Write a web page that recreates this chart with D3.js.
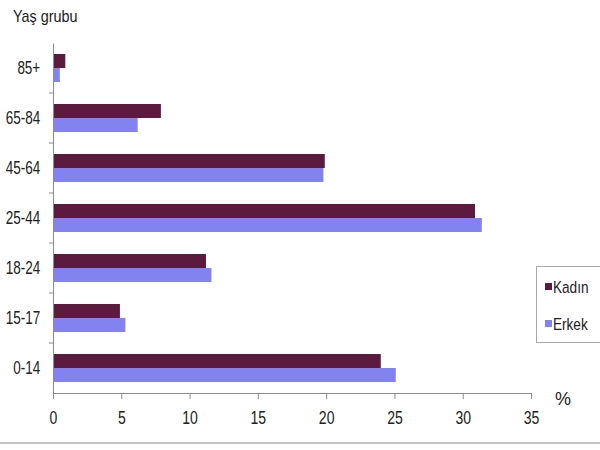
<!DOCTYPE html>
<html><head><meta charset="utf-8">
<script src="https://cdn.jsdelivr.net/npm/d3@7"></script>
<style>
html,body{margin:0;padding:0;background:#fff;}
text{font-family:"Liberation Sans",Arial,sans-serif;fill:#222;}
</style></head>
<body>
<svg id="chart" width="600" height="450"></svg>
<script>
const categories = ["85+","65-84","45-64","25-44","18-24","15-17","0-14"];
const kadin = [0.9, 7.9, 19.9, 30.9, 11.2, 4.9, 24.0];
const erkek = [0.5, 6.2, 19.8, 31.4, 11.6, 5.3, 25.1];
const seriesNames = ["Kadın","Erkek"];
const xTicks = [0,5,10,15,20,25,30,35];
const colors = ["#5c1a3e","#8383f0"];

const svg = d3.select("#chart");
const x = d3.scaleLinear().domain([0,35]).range([53,531]);
const y = d3.scaleBand().domain(categories).range([43,393]).paddingInner(0.44).paddingOuter(0.22);
const sub = d3.scaleBand().domain(seriesNames).range([0,y.bandwidth()]);

// bottom gray rule
svg.append("rect").attr("x",0).attr("y",442).attr("width",600).attr("height",2).attr("fill","#c4c4c4");

const series = [kadin, erkek];
series.forEach((vals,si)=>{
  svg.append("g").selectAll("rect").data(categories).join("rect")
    .attr("x",x(0)).attr("y",(c)=>y(c)+sub(seriesNames[si]))
    .attr("width",(c,i)=>x(vals[i])-x(0)).attr("height",sub.bandwidth())
    .attr("fill",colors[si]);
});

// x axis
const xa = svg.append("g").attr("transform","translate(0,393)")
  .call(d3.axisBottom(x).tickValues(xTicks).tickSize(6).tickSizeOuter(0).tickPadding(12));
xa.select(".domain").attr("stroke","#8c8c8c");
xa.selectAll(".tick line").attr("stroke","#8c8c8c");
xa.selectAll("text").attr("font-size",18).attr("fill","#222")
  .attr("font-family","'Liberation Sans',Arial,sans-serif")
  .attr("transform","scale(0.78,1)");

// y axis
const ya = svg.append("g").attr("transform","translate(53,0)")
  .call(d3.axisLeft(y).tickSize(0).tickPadding(17));
ya.select(".domain").attr("stroke","#8c8c8c");
ya.selectAll("text").attr("font-size",18).attr("fill","#222")
  .attr("font-family","'Liberation Sans',Arial,sans-serif")
  .attr("transform","scale(0.75,1)");
// boundary ticks on y axis
const bounds = categories.slice(1).map(c=>y(c)-y.step()*y.paddingInner()/2);
svg.append("g").selectAll("line").data(bounds).join("line")
  .attr("x1",49).attr("x2",53).attr("y1",d=>d).attr("y2",d=>d).attr("stroke","#8c8c8c");

// titles
svg.append("text").attr("transform","translate(13,22) scale(0.9,1)").attr("font-size",16).text("Yaş grubu");
svg.append("text").attr("x",555).attr("y",405).attr("font-size",18).text("%");

// legend
const lg = svg.append("g");
lg.append("rect").attr("x",536.5).attr("y",266.5).attr("width",70).attr("height",76)
  .attr("fill","#fff").attr("stroke","#a8a8a8");
seriesNames.forEach((n,i)=>{
  const cy = 287 + i*37;
  lg.append("rect").attr("x",545).attr("y",cy-4).attr("width",7).attr("height",7).attr("fill",colors[i]);
  lg.append("text").attr("transform",`translate(553,${cy+6}) scale(0.85,1)`).attr("font-size",16).text(n);
});
</script>
</body></html>
